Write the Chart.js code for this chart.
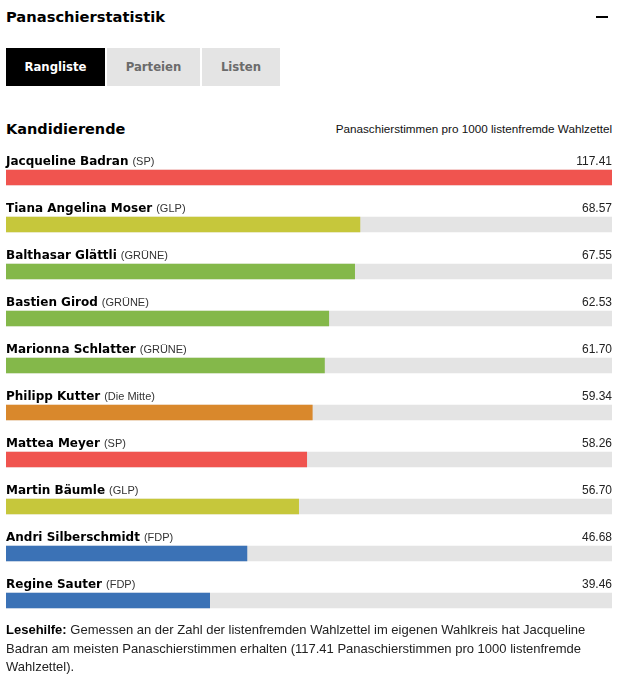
<!DOCTYPE html>
<html>
<head>
<meta charset="utf-8">
<script src="https://cdn.jsdelivr.net/npm/chart.js@4"></script>
<style>
  html, body { margin: 0; padding: 0; background: #fff; overflow: hidden; }
  body { width: 621px; height: 680px; position: relative; font-family: "Liberation Sans", Arial, sans-serif; color: #111; }
  .abs { position: absolute; }
  .heavy { font-family: "DejaVu Sans", sans-serif; font-weight: bold; }
  #title { left: 6px; top: 8px; line-height: 18px; font-size: 14.7px; color: #000; }
  #minus { left: 596px; top: 16px; width: 12px; height: 2px; background: #000; }
  .tab { top: 48px; height: 38px; line-height: 38px; text-align: center; font-size: 11.7px; background: #e4e4e4; color: #6b6b6b; }
  .tab.active { background: #000; color: #fff; }
  #kand { left: 6px; top: 120px; line-height: 18px; font-size: 14.5px; color: #000; }
  #unit { right: 9px; top: 121px; line-height: 16px; font-size: 11.7px; color: #111; }
  #chartBox { left: 0; top: 146px; width: 621px; height: 478px; }
  #note { left: 6px; top: 621px; width: 606px; font-size: 13px; line-height: 18.5px; color: #222; }
  #note b { color: #000; }
</style>
</head>
<body>
<div id="title" class="abs heavy">Panaschierstatistik</div>
<div id="minus" class="abs"></div>
<div class="abs tab heavy active" style="left:6px;width:99px;">Rangliste</div>
<div class="abs tab heavy" style="left:107px;width:93px;">Parteien</div>
<div class="abs tab heavy" style="left:202px;width:78px;">Listen</div>
<div id="kand" class="abs heavy">Kandidierende</div>
<div id="unit" class="abs">Panaschierstimmen pro 1000 listenfremde Wahlzettel</div>
<div id="chartBox" class="abs"><canvas id="chartPanasch"></canvas></div>
<div id="note" class="abs"><b>Lesehilfe:</b> Gemessen an der Zahl der listenfremden Wahlzettel im eigenen Wahlkreis hat Jacqueline Badran am meisten Panaschierstimmen erhalten (117.41 Panaschierstimmen pro 1000 listenfremde Wahlzettel).</div>

<script>
// DONNEES
const candidates = ['Jacqueline Badran', 'Tiana Angelina Moser', 'Balthasar Glättli', 'Bastien Girod', 'Marionna Schlatter',
                    'Philipp Kutter', 'Mattea Meyer', 'Martin Bäumle', 'Andri Silberschmidt', 'Regine Sauter'];
const parties = ['SP', 'GLP', 'GRÜNE', 'GRÜNE', 'GRÜNE', 'Die Mitte', 'SP', 'GLP', 'FDP', 'FDP'];
const votes = [117.41, 68.57, 67.55, 62.53, 61.70, 59.34, 58.26, 56.70, 46.68, 39.46];

// couleurs des partis
const partyColors = { 'SP': '#f0544f', 'GLP': '#c6c73b', 'GRÜNE': '#84b84a', 'Die Mitte': '#d9882c', 'FDP': '#3b72b6' };

const maxVote = Math.max(...votes);

// PLUGIN - noms, partis et valeurs au-dessus des barres
const rowLabels = {
  id: 'rowLabels',
  afterDatasetsDraw(chart) {
    const ctx = chart.ctx;
    const area = chart.chartArea;
    ctx.save();
    ctx.textBaseline = 'middle';
    chart.getDatasetMeta(0).data.forEach((bar, i) => {
      const y = bar.y - 16;
      ctx.textAlign = 'left';
      ctx.fillStyle = '#000';
      ctx.font = 'bold 12px "DejaVu Sans"';
      ctx.fillText(candidates[i], area.left, y);
      const w = ctx.measureText(candidates[i]).width;
      ctx.fillStyle = '#333';
      ctx.font = '11px "Liberation Sans"';
      ctx.fillText('(' + parties[i] + ')', area.left + w + 4, y + 0.5);
      ctx.textAlign = 'right';
      ctx.fillStyle = '#222';
      ctx.font = '12px "Liberation Sans"';
      ctx.fillText(votes[i].toFixed(2), area.right, y);
    });
    ctx.restore();
  }
};

// GRAPH - SET-UP
const config = {
  type: 'bar',
  data: {
    labels: candidates,
    datasets: [{
      data: votes,
      backgroundColor: parties.map(p => partyColors[p]),
      barThickness: 15,
      grouped: false,
      order: 1
    }, {
      data: votes.map(() => maxVote),
      backgroundColor: '#e4e4e4',
      barThickness: 15,
      grouped: false,
      order: 2
    }]
  },
  options: {
    indexAxis: 'y',
    responsive: true,
    maintainAspectRatio: false,
    animation: false,
    layout: { padding: { top: 8, left: 6, right: 9, bottom: 0 } },
    scales: {
      x: { display: false, min: 0, max: maxVote },
      y: { display: false }
    },
    plugins: { legend: { display: false }, tooltip: { enabled: false } }
  },
  plugins: [rowLabels]
};

const chartPanasch = new Chart(document.getElementById('chartPanasch'), config);
</script>
</body>
</html>
